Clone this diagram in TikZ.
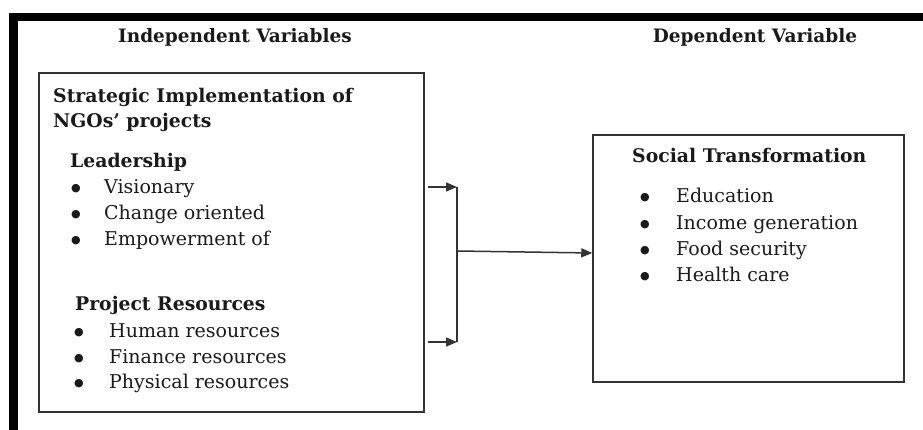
\documentclass[tikz,border=0pt]{standalone}
\usepackage{fontspec}
\setmainfont{DejaVu Serif}
\usetikzlibrary{arrows.meta}
\definecolor{ink}{HTML}{1A1A1A}
\definecolor{edge}{HTML}{333333}
\tikzset{
  box/.style={draw=edge, line width=1.5pt, inner sep=0pt},
  head/.style={font=\fontsize{18.5}{20}\selectfont\bfseries, text=ink, inner sep=0pt, text height=1.5ex, text depth=0.25ex},
  sub/.style={font=\fontsize{18.8}{21}\selectfont\bfseries, text=ink, inner sep=0pt, anchor=west, text height=1.5ex, text depth=0.25ex},
  item/.style={font=\fontsize{19}{21}\selectfont, text=ink, inner sep=0pt, anchor=west, text height=1.5ex, text depth=0.25ex},
  conn/.style={draw=edge, line width=1.5pt},
  arr/.style={conn, -{Triangle[length=11pt,width=9pt]}},
}
\newcommand{\bul}[2]{\makebox[#1][l]{\raisebox{0.15ex}{\fontsize{11}{11}\selectfont ●}}#2}
\begin{document}
\begin{tikzpicture}[x=1pt,y=-1pt]
\useasboundingbox (0,0) rectangle (923,430);
\fill[white] (0,0) rectangle (923,430);
% outer frame pieces
\fill[black] (9,13) rectangle (923,21);
\fill[black] (9,13) rectangle (18,430);
% headings
\node[head] (hi) at (235,39) {Independent Variables};
\node[head] (hd) at (755,39) {Dependent Variable};
% boxes
\node[box, minimum width=385pt, minimum height=339pt] (L) at (231.5,242.5) {};
\node[box, minimum width=311pt, minimum height=247pt] (R) at (748.5,258.5) {};
% left box text
\node[sub] (t1) at (53,99) {Strategic Implementation of};
\node[sub] (t2) at (53,124) {NGOs’ projects};
\node[sub] (ld) at (70,164) {Leadership};
\node[item] (l1) at (71,190) {\bul{33pt}{Visionary}};
\node[item] (l2) at (71,216) {\bul{33pt}{Change oriented}};
\node[item] (l3) at (71,242) {\bul{33pt}{Empowerment of}};
\node[sub] (pr) at (75,307) {Project Resources};
\node[item] (p1) at (74,334) {\bul{35pt}{Human resources}};
\node[item] (p2) at (74,360) {\bul{35pt}{Finance resources}};
\node[item] (p3) at (74,385) {\bul{35pt}{Physical resources}};
% right box text
\node[sub] (st) at (632,159) {Social Transformation};
\node[item] (r1) at (640,199) {\bul{36pt}{Education}};
\node[item] (r2) at (640,226) {\bul{36pt}{Income generation}};
\node[item] (r3) at (640,252) {\bul{36pt}{Food security}};
\node[item] (r4) at (640,278) {\bul{36pt}{Health care}};
% connectors
\coordinate (a1) at (428,187);
\coordinate (j1) at (457,187);
\coordinate (a2) at (428,342);
\coordinate (j2) at (457,342);
\coordinate (jm) at (457,251);
\draw[arr] (a1) -- (j1);
\draw[arr] (a2) -- (j2);
\draw[conn] (j1) -- (j2);
\draw[arr] (jm) -- ([yshift=5.5pt]R.west);
\end{tikzpicture}
\end{document}
